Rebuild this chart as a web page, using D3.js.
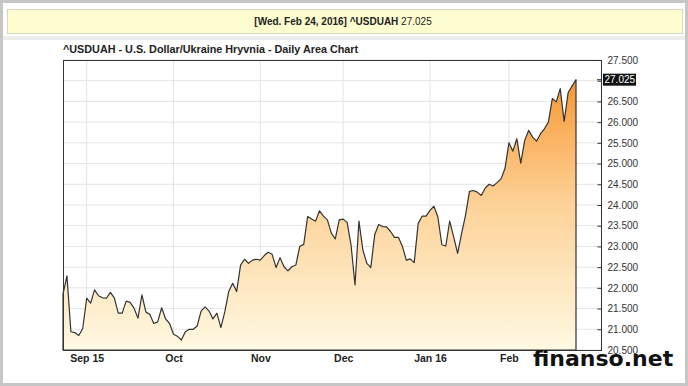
<!DOCTYPE html>
<html>
<head>
<meta charset="utf-8">
<script src="https://cdn.jsdelivr.net/npm/d3@7"></script>
<style>
  body { margin: 0; background: #fff; }
  text { font-family: "Liberation Sans", Arial, sans-serif; }
</style>
</head>
<body>
<div id="chart"></div>
<script>
// Data
var first_day     =   new Date(2015, 7, 24);
var last_day      =   new Date(2016, 1, 24);
var holidays      =   ['2015-12-25', '2016-01-01'];
var tick_labels   =   ['Sep 15', 'Oct', 'Nov', 'Dec', 'Jan 16', 'Feb'];
var y_ticks       =   [20.5, 21, 21.5, 22, 22.5, 23, 23.5, 24, 24.5, 25, 25.5, 26, 26.5, 27, 27.5];
var last_value    =   27.025;
var values = [
  21.85, 22.29, 20.94, 20.92, 20.85, 21.02, 21.75, 21.63, 21.95, 21.81,
  21.76, 21.75, 21.89, 21.76, 21.39, 21.39, 21.68, 21.65, 21.51, 21.27,
  21.83, 21.42, 21.36, 21.14, 21.18, 21.52, 21.25, 21.14, 20.88, 20.83,
  20.74, 20.94, 21.00, 21.00, 21.08, 21.44, 21.54, 21.44, 21.25, 21.39,
  21.04, 21.42, 21.91, 22.11, 21.91, 22.55, 22.69, 22.59, 22.67, 22.69,
  22.67, 22.78, 22.86, 22.81, 22.49, 22.73, 22.51, 22.41, 22.51, 22.55,
  23.00, 23.05, 23.72, 23.66, 23.61, 23.86, 23.73, 23.64, 23.32, 23.18,
  23.64, 23.66, 23.58, 23.03, 22.07, 23.61, 22.91, 22.59, 22.49, 23.29,
  23.53, 23.48, 23.47, 23.36, 23.22, 23.22, 23.00, 22.67, 22.70, 22.61,
  23.55, 23.73, 23.73, 23.87, 23.97, 23.71, 23.04, 23.01, 23.61, 23.23,
  22.83, 23.31, 23.75, 24.33, 24.35, 24.31, 24.23, 24.41, 24.50, 24.46,
  24.54, 24.63, 24.88, 25.50, 25.30, 25.60, 25.01, 25.56, 25.80, 25.64,
  25.54, 25.72, 25.84, 26.00, 26.57, 26.49, 26.81, 26.02, 26.71, 26.87,
  27.025
];

// Trading days (weekdays, less holidays) form the x categories
var fmt_day = d3.timeFormat('%Y-%m-%d');
var dates = d3.timeDay.range(first_day, d3.timeDay.offset(last_day, 1))
              .filter(function(d){
                return d.getDay() !== 0 && d.getDay() !== 6 && holidays.indexOf(fmt_day(d)) < 0;
              });
var data = dates.map(function(d, i){ return { date: d, value: values[i] }; });

// first trading day of each month gets a tick
var month_starts = [];
data.forEach(function(d, i){
  if (i > 0 && d.date.getMonth() !== data[i - 1].date.getMonth()) month_starts.push(i);
});

var chart_width   =   688;
var chart_height  =   386;
var plot = { left: 63, top: 60, right: 601, bottom: 350 };

var x = d3.scaleLinear()
          .domain([0, data.length - 1])
          .range([plot.left, 576]);
var y = d3.scaleLinear()
          .domain([20.5, 27.5])
          .range([plot.bottom, plot.top]);

var svg = d3.select('#chart')
            .append('svg')
            .attr('width', chart_width)
            .attr('height', chart_height);

// frame and banner
svg.append('rect')
   .attr('x', 1.5).attr('y', 1.5)
   .attr('width', chart_width - 3).attr('height', chart_height - 3)
   .attr('fill', '#fff').attr('stroke', '#c6c6c6').attr('stroke-width', 3);
svg.append('rect')
   .attr('x', 3).attr('y', 36).attr('width', chart_width - 6).attr('height', 4)
   .attr('fill', '#ededed');
svg.append('rect')
   .attr('x', 7.5).attr('y', 9.5).attr('width', 675).attr('height', 24)
   .attr('fill', '#fdfdcf').attr('stroke', '#d6d6c4');

var banner = svg.append('text')
   .attr('x', 343).attr('y', 25)
   .attr('text-anchor', 'middle')
   .style('font-size', '10px')
   .attr('fill', '#222');
banner.append('tspan').style('font-weight', 'bold').text('[Wed. Feb 24, 2016] ^USDUAH ');
banner.append('tspan').text(d3.format('.3f')(last_value));

svg.append('text')
   .attr('x', plot.left).attr('y', 53)
   .style('font-size', '10.8px').style('font-weight', 'bold')
   .attr('fill', '#222')
   .text('^USDUAH - U.S. Dollar/Ukraine Hryvnia - Daily Area Chart');

// gradient for the area
var grad = svg.append('defs').append('linearGradient')
              .attr('id', 'fill')
              .attr('gradientUnits', 'userSpaceOnUse')
              .attr('x1', 0).attr('x2', 0)
              .attr('y1', plot.top).attr('y2', plot.bottom);
grad.append('stop').attr('offset', '0%').attr('stop-color', '#f68f24');
grad.append('stop').attr('offset', '50%').attr('stop-color', '#fdd298');
grad.append('stop').attr('offset', '100%').attr('stop-color', '#fff9e2');

// grid
svg.append('g')
   .selectAll('line')
   .data(y_ticks)
   .enter()
   .append('line')
   .attr('x1', plot.left).attr('x2', plot.right)
   .attr('y1', function(d){ return y(d); })
   .attr('y2', function(d){ return y(d); })
   .attr('stroke', '#e4e4e4');
svg.append('g')
   .selectAll('line')
   .data(month_starts)
   .enter()
   .append('line')
   .attr('x1', function(d){ return x(d); })
   .attr('x2', function(d){ return x(d); })
   .attr('y1', plot.top).attr('y2', plot.bottom)
   .attr('stroke', '#e4e4e4');

// area + line
var area = d3.area()
             .x(function(d, i){ return x(i); })
             .y0(plot.bottom)
             .y1(function(d){ return y(d.value); });
svg.append('path')
   .datum(data)
   .attr('d', area)
   .attr('fill', 'url(#fill)')
   .attr('stroke', '#333')
   .attr('stroke-width', 1.2)
   .attr('stroke-linejoin', 'round');

// plot border
svg.append('rect')
   .attr('x', plot.left + 0.5).attr('y', plot.top + 0.5)
   .attr('width', plot.right - plot.left).attr('height', plot.bottom - plot.top)
   .attr('fill', 'none').attr('stroke', '#333');

// right axis; the 27.000 label gives way to the last value box
var y_axis = d3.axisRight(y)
               .tickValues(y_ticks)
               .tickFormat(function(d){ return Math.abs(d - last_value) < 0.1 ? '' : d3.format('.3f')(d); })
               .tickSizeInner(-4)
               .tickSizeOuter(0)
               .tickPadding(6);
var gy = svg.append('g')
            .attr('transform', 'translate(' + (plot.right + 0.5) + ',0)')
            .call(y_axis);
gy.select('.domain').remove();
gy.selectAll('line').attr('stroke', '#333');
gy.selectAll('text').style('font-size', '10px').attr('fill', '#333')
  .attr('font-family', null);

// highlighted last value
var ly = y(last_value);
svg.append('line')
   .attr('x1', plot.right - 4).attr('x2', plot.right)
   .attr('y1', ly).attr('y2', ly)
   .attr('stroke', '#333');
svg.append('rect')
   .attr('x', plot.right + 2).attr('y', ly - 6)
   .attr('width', 33).attr('height', 12)
   .attr('fill', '#111');
svg.append('text')
   .attr('x', plot.right + 3.5).attr('y', ly + 3.5)
   .style('font-size', '10px')
   .attr('fill', '#fff')
   .text(d3.format('.3f')(last_value));

// bottom axis
var x_axis = d3.axisBottom(x)
               .tickValues(month_starts)
               .tickFormat(function(d, i){ return tick_labels[i]; })
               .tickSize(0)
               .tickPadding(5);
var gx = svg.append('g')
            .attr('transform', 'translate(0,' + plot.bottom + ')')
            .call(x_axis);
gx.select('.domain').remove();
gx.selectAll('text').style('font-size', '10.5px').style('font-weight', 'bold')
  .attr('fill', '#222').attr('font-family', null);

// watermark
svg.append('text')
   .attr('x', 533).attr('y', 366)
   .style('font-family', '"DejaVu Sans", sans-serif')
   .style('font-size', '22px').style('font-weight', 'bold')
   .attr('fill', '#111')
   .text('finanso.net');
</script>
</body>
</html>
